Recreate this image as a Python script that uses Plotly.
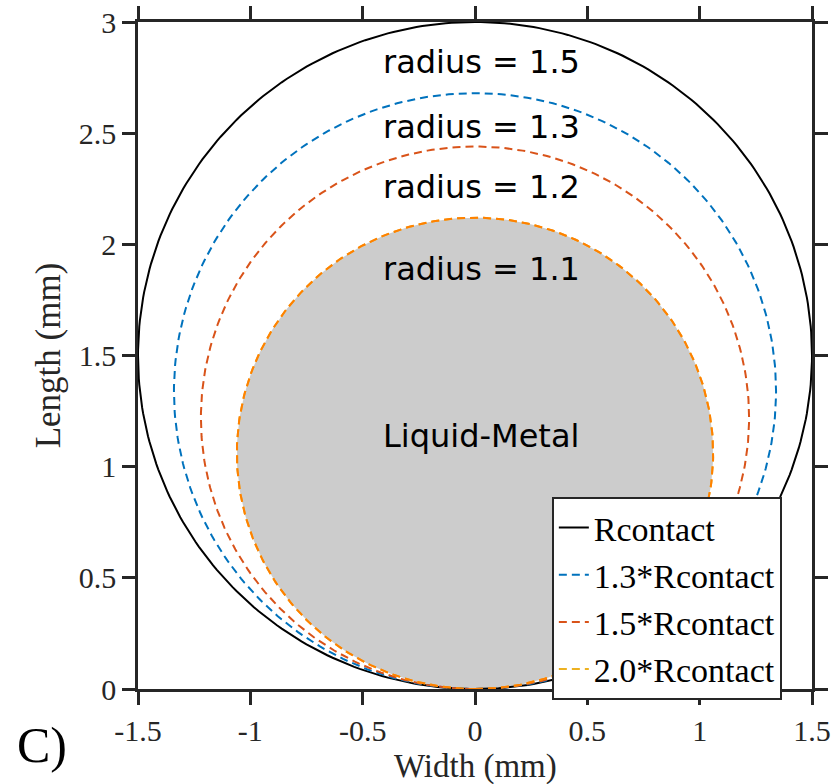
import numpy as np
import plotly.graph_objects as go

# Data
names = ["Rcontact", "1.3*Rcontact", "1.5*Rcontact", "2.0*Rcontact"]
radii = [1.5, 1.34, 1.22, 1.06]
colors = ["#000000", "#0072BD", "#D95319", "#EDB120"]
dashes = ["solid", "8px,5px", "8px,5px", "8px,5px"]
label_texts = ["radius = 1.5", "radius = 1.3", "radius = 1.2", "radius = 1.1"]
label_y = [2.82, 2.53, 2.26, 1.89]
fill_radius = 1.06
x_ticks = [-1.5, -1, -0.5, 0, 0.5, 1, 1.5]
x_ticklabels = ["-1.5", "-1", "-0.5", "0", "0.5", "1", "1.5"]
y_ticks = [0, 0.5, 1, 1.5, 2, 2.5, 3]
y_ticklabels = ["0", "0.5", "1", "1.5", "2", "2.5", "3"]

theta = np.linspace(0, 2 * np.pi, 361)

def circle(r):
    return r * np.sin(theta), r - r * np.cos(theta)

fig = go.Figure()

# filled liquid-metal region (drawn first, under lines)
fx, fy = circle(fill_radius)
fig.add_trace(go.Scatter(x=fx, y=fy, mode="lines", fill="toself",
                         fillcolor="#CCCCCC", line=dict(color="rgba(0,0,0,0)", width=0),
                         showlegend=False, hoverinfo="skip"))

for n, r, c, d in zip(names, radii, colors, dashes):
    cx, cy = circle(r)
    fig.add_trace(go.Scatter(x=cx, y=cy, mode="lines", name=n,
                             line=dict(color=c, width=2, dash=d)))

# orange dashed edge of the fill on top
fig.add_trace(go.Scatter(x=fx, y=fy, mode="lines", showlegend=False,
                         line=dict(color="#FF8000", width=2, dash="8px,5px"),
                         hoverinfo="skip"))

for t, yv in zip(label_texts, label_y):
    fig.add_annotation(x=0.027, y=yv, text=t, showarrow=False,
                       font=dict(family="DejaVu Sans", size=32, color="black"))
fig.add_annotation(x=0.027, y=1.14, text="Liquid-Metal", showarrow=False,
                   font=dict(family="DejaVu Sans", size=32, color="black"))
fig.add_annotation(x=-0.182, y=-0.084, xref="paper", yref="paper", text="C)",
                   showarrow=False, xanchor="left", yanchor="middle",
                   font=dict(family="Liberation Serif", size=50, color="black"))
fig.add_annotation(x=0.5, y=-0.1155, xref="paper", yref="paper", text="Width (mm)",
                   showarrow=False, xanchor="center", yanchor="middle",
                   font=dict(family="Liberation Serif", size=33, color="#262626"))

axis_common = dict(showline=True, linecolor="#262626", linewidth=2.5, mirror="ticks",
                   ticks="outside", ticklen=13, tickwidth=2.5, tickcolor="#262626",
                   showgrid=False, zeroline=False, automargin=False,
                   tickfont=dict(family="Liberation Serif", size=30, color="#262626"))

fig.update_layout(
    width=835, height=784,
    margin=dict(l=138, r=23, t=22, b=95),
    plot_bgcolor="white", paper_bgcolor="white",
    xaxis=dict(range=[-1.5, 1.5], tickvals=x_ticks, ticktext=x_ticklabels,
               **axis_common),
    yaxis=dict(range=[0, 3], tickvals=y_ticks, ticktext=y_ticklabels,
               title=dict(text="Length (mm)", standoff=8,
                          font=dict(family="Liberation Serif", size=35, color="#262626")),
               **axis_common),
    legend=dict(x=0.614, y=0.288, xanchor="left", yanchor="top",
                bgcolor="white", bordercolor="#262626", borderwidth=2,
                font=dict(family="Liberation Serif", size=34, color="black"),
                itemwidth=30, tracegroupgap=0),
    showlegend=True,
)

fig.write_html("out.html")
